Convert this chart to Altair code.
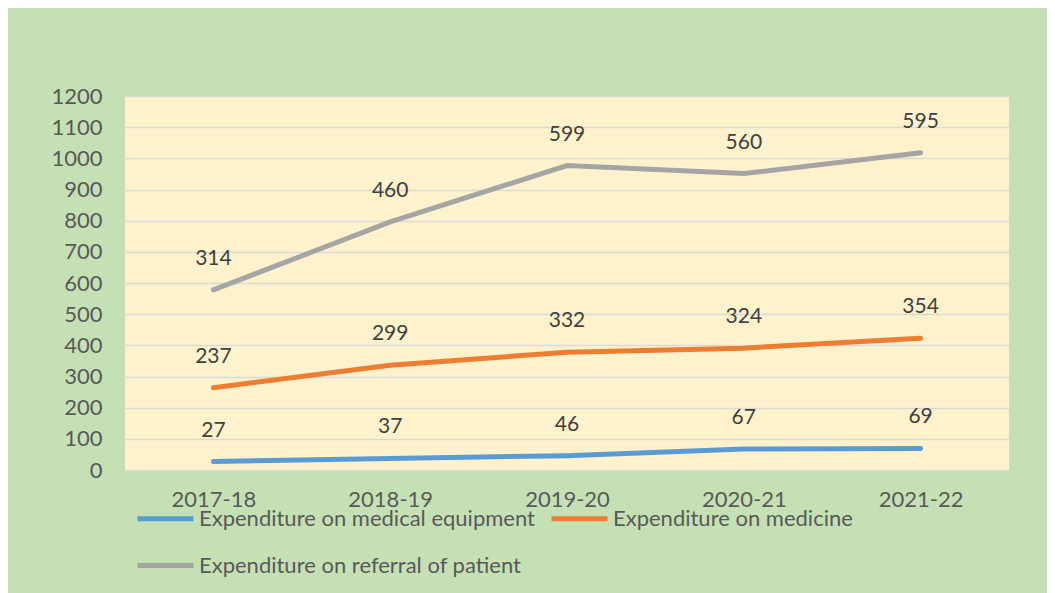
import altair as alt
import pandas as pd

years = ["2017-18", "2018-19", "2019-20", "2020-21", "2021-22"]
series = ["Expenditure on medical equipment", "Expenditure on medicine", "Expenditure on referral of patient"]
equipment = [27, 37, 46, 67, 69]
medicine = [237, 299, 332, 324, 354]
referral = [314, 460, 599, 560, 595]
colors = ["#5B9BD5", "#ED7D31", "#A5A5A5"]
y_ticks = [0, 100, 200, 300, 400, 500, 600, 700, 800, 900, 1000, 1100, 1200]

rows = []
for i, (name, vals) in enumerate(zip(series, [equipment, medicine, referral])):
    for y, v in zip(years, vals):
        rows.append({"year": y, "series": name, "idx": i, "value": v})
df = pd.DataFrame(rows)

FONT = "Lato"
FS = 22

base = alt.Chart(df).transform_window(
    cum="sum(value)", groupby=["year"], sort=[{"field": "idx"}], frame=[None, 0]
)

x = alt.X("year:N", sort=years, title=None,
          axis=alt.Axis(labelAngle=0, labelFontSize=FS, labelColor="#595959", labelFont=FONT,
                        ticks=False, domain=False, labelPadding=19, grid=False))
y = alt.Y("cum:Q", title=None, scale=alt.Scale(domain=[0, 1200], nice=False),
          axis=alt.Axis(values=y_ticks, tickCount=20, format="d", labelOverlap=False,
                        labelFontSize=FS, labelColor="#595959",
                        labelFont=FONT, ticks=False, domain=False, labelPadding=23,
                        gridColor="#D9D9D9", gridWidth=1.5))

color = alt.Color("series:N", scale=alt.Scale(domain=series, range=colors), title=None,
                  legend=alt.Legend(orient="none", legendX=10, legendY=392, direction="horizontal",
                                    columns=2, symbolType="stroke", symbolStrokeWidth=5,
                                    symbolSize=3136, labelFontSize=FS, labelFont=FONT,
                                    labelColor="#595959", labelOffset=3, columnPadding=6,
                                    rowPadding=5, labelLimit=500))

lines = base.mark_line(strokeWidth=5, strokeCap="round").encode(
    x=x, y=y, color=color, detail="series:N")

labels = base.mark_text(dy=-31, fontSize=21, font=FONT, color="#404040").encode(
    x=x, y=y, text="value:Q")

chart = (lines + labels).properties(
    width=884, height=374,
    background="#C5E0B4",
    padding={"left": 117, "top": 88, "right": 38, "bottom": 123},
    autosize="none",
).configure_view(fill="#FFF2CC", stroke=None)

chart.save("out.html", embed_options={"renderer": "svg", "actions": False})
